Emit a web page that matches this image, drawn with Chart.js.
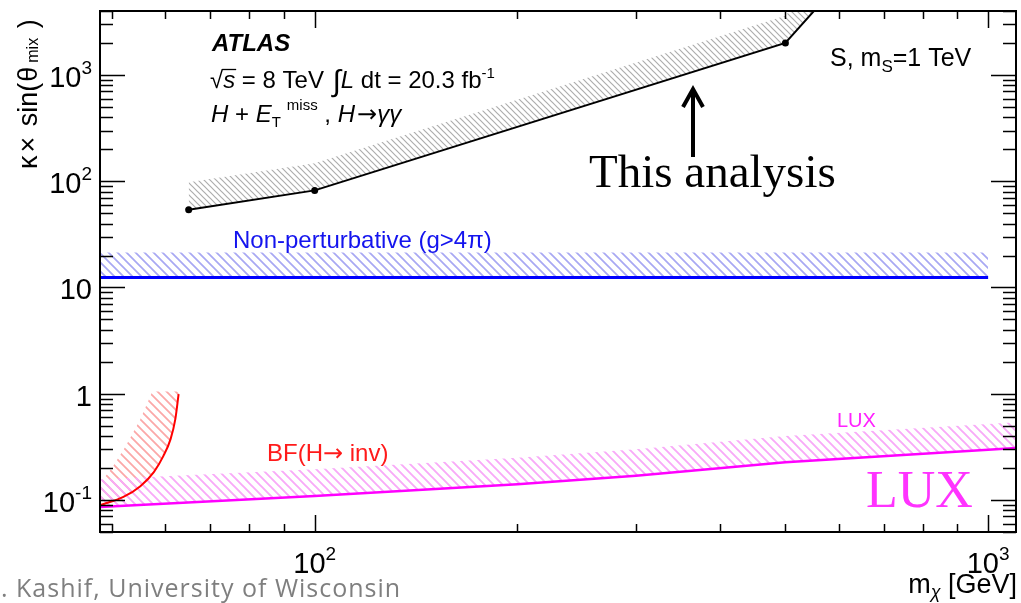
<!DOCTYPE html>
<html><head><meta charset="utf-8">
<script src="https://cdn.jsdelivr.net/npm/chart.js@4.4.1/dist/chart.umd.min.js"></script>
<style>html,body{margin:0;padding:0;background:#fff;overflow:hidden}#wrap{width:1021px;height:603px;position:relative}</style>
</head><body><div id="wrap"><canvas id="c" width="1021" height="603"></canvas></div>
<script>
// ---- data ----
const thisAnalysisMass = [65, 100, 500, 600];
const thisAnalysisLimit = [54, 82, 2000, 7300];
const thisAnalysisHatchEdge = [98, 148, 3600, 13000];
const nonPertMass = [48, 1000];
const nonPertLimit = [12.4, 12.4];
const nonPertHatchEdge = [21.3, 21.3];
const luxMass = [48, 100, 200, 300, 500, 1000, 1100];
const luxLimit = [0.086, 0.109, 0.141, 0.169, 0.227, 0.297, 0.308];
const luxHatchEdge = [0.157, 0.195, 0.25, 0.30, 0.40, 0.52, 0.54];
const bfInvMass = [48.1, 52.0, 55.1, 57.7, 59.6, 61.1, 62.1, 62.8];
const bfInvLimit = [0.0898, 0.107, 0.135, 0.183, 0.259, 0.374, 0.577, 0.99];
const bfInvHatchMass = [62.9, 57.4, 55.1, 52.4, 50.0, 48.0];
const bfInvHatchEdge = [1.05, 1.05, 0.577, 0.321, 0.20, 0.144];
// ---- axes / tick labels ----
const xMin = 48, xMax = 1100, yMin = 0.05, yMax = 4000;
const xMajorTicks = [100, 1000];
const xTickBase = ['10', '10'];
const xTickExp = ['2', '3'];
const yMajorTicks = [0.1, 1, 10, 100, 1000];
const yTickBase = ['10', '1', '10', '10', '10'];
const yTickExp = ['-1', '', '', '2', '3'];

const SANS = '"Liberation Sans", Arial, sans-serif';
const SERIF = '"Liberation Serif", "Times New Roman", serif';
const ARROWF = '"DejaVu Sans", sans-serif';

function pts(xs, ys) { return xs.map((x, i) => ({x: x, y: ys[i]})); }

function makeHatch(color, spacing, width) {
  const c = document.createElement('canvas');
  c.width = spacing; c.height = spacing;
  const g = c.getContext('2d');
  g.strokeStyle = color; g.lineWidth = width;
  g.beginPath();
  for (let k = -1; k <= 1; k++) {
    g.moveTo(k * spacing - 1, -1);
    g.lineTo(k * spacing + spacing + 1, spacing + 1);
  }
  g.stroke();
  return g.createPattern(c, 'repeat');
}
const ctx0 = document.getElementById('c').getContext('2d');
const grayHatch = makeHatch('#adadad', 6, 1.2);
const blueHatch = makeHatch('#a8a8f3', 9, 1.7);
const pinkHatch = makeHatch('#f8aaf8', 9, 1.9);
const redHatch = makeHatch('#fba8a8', 9, 1.8);

const redPoly = pts(bfInvMass, bfInvLimit).concat(pts(bfInvHatchMass, bfInvHatchEdge));

function richText(ctx, x, y, parts, align) {
  let total = 0;
  for (const p of parts) { ctx.font = p.f; total += (p.dx || 0) + ctx.measureText(p.t).width; }
  let cx = align === 'right' ? x - total : (align === 'center' ? x - total / 2 : x);
  for (const p of parts) {
    ctx.font = p.f;
    cx += p.dx || 0;
    if (p.c) ctx.fillStyle = p.c;
    ctx.fillText(p.t, cx, y + (p.dy || 0));
    cx += ctx.measureText(p.t).width;
  }
  return cx;
}

const framePlugin = {
  id: 'frame',
  afterDatasetsDraw(chart) {
    const ctx = chart.ctx, a = chart.chartArea;
    const xs = chart.scales.x, ys = chart.scales.y;
    ctx.save();
    ctx.strokeStyle = '#000';
    ctx.lineWidth = 1.5;
    const xt = [];
    for (let d = 1; d <= 3; d++) for (let m = 1; m <= 9; m++) xt.push(m * Math.pow(10, d));
    for (const v of xt) {
      if (v < xMin || v > xMax) continue;
      const px = Math.round(xs.getPixelForValue(v)) + 0.5;
      const major = xMajorTicks.indexOf(v) >= 0;
      const L = major ? 17 : 8;
      ctx.beginPath();
      ctx.moveTo(px, a.bottom); ctx.lineTo(px, a.bottom - L);
      ctx.moveTo(px, a.top); ctx.lineTo(px, a.top + L);
      ctx.stroke();
    }
    const yt = [];
    for (let d = -2; d <= 3; d++) for (let m = 1; m <= 9; m++) yt.push(+(m * Math.pow(10, d)).toPrecision(6));
    for (const v of yt) {
      if (v < yMin || v > yMax) continue;
      const py = Math.round(ys.getPixelForValue(v)) + 0.5;
      const major = yMajorTicks.indexOf(v) >= 0;
      const L = major ? 25 : 13;
      ctx.beginPath();
      ctx.moveTo(a.left, py); ctx.lineTo(a.left + L, py);
      ctx.moveTo(a.right, py); ctx.lineTo(a.right - L, py);
      ctx.stroke();
    }
    ctx.lineWidth = 2;
    ctx.strokeRect(a.left, a.top, a.right - a.left, a.bottom - a.top);
    ctx.restore();
  },
  afterDraw(chart) {
    const ctx = chart.ctx;
    const xs = chart.scales.x, ys = chart.scales.y;
    ctx.save();
    ctx.textBaseline = 'alphabetic';
    ctx.textAlign = 'left';
    ctx.fillStyle = '#000';
    const F = (s, st) => (st ? st + ' ' : '') + s + 'px ' + SANS;
    // x tick labels
    xMajorTicks.forEach((v, i) => {
      const px = xs.getPixelForValue(v);
      richText(ctx, px, 573, [{t: xTickBase[i], f: F(29)}, {t: xTickExp[i], f: F(19), dy: -13}], 'center');
    });
    // y tick labels
    yMajorTicks.forEach((v, i) => {
      const py = ys.getPixelForValue(v);
      const parts = [{t: yTickBase[i], f: F(29)}];
      if (yTickExp[i]) parts.push({t: yTickExp[i], f: F(19), dy: -13});
      richText(ctx, 92, py + 12, parts, 'right');
    });
    // axis titles
    richText(ctx, 1017, 593, [{t: 'm', f: F(27)}, {t: 'χ', f: F(18, 'italic'), dy: 5}, {t: ' [GeV]', f: F(27)}], 'right');
    ctx.save();
    ctx.translate(37, 169);
    ctx.rotate(-Math.PI / 2);
    richText(ctx, 0, 0, [
      {t: 'κ', f: F(27)}, {t: '×', f: F(27), dx: 3}, {t: ' sin(', f: F(27), dx: 3},
      {t: 'θ', f: F(27), dx: 1}, {t: 'mix', f: F(16), dy: 1, dx: 4}, {t: ' )', f: F(27), dx: 2}]);
    ctx.restore();
    // ATLAS block
    ctx.font = F(24, 'italic bold');
    ctx.fillText('ATLAS', 212, 51);
    let cx = richText(ctx, 210, 88, [{t: '√', f: F(24)}]);
    const sx = cx;
    cx = richText(ctx, cx, 88, [{t: 's', f: F(24, 'italic')}]);
    ctx.lineWidth = 1.3; ctx.strokeStyle = '#000';
    ctx.beginPath(); ctx.moveTo(sx - 1, 69.5); ctx.lineTo(cx + 1, 69.5); ctx.stroke();
    richText(ctx, cx, 88, [
      {t: ' = 8 TeV ', f: F(24)}, {t: '∫', f: F(30), dy: 3, dx: 2}, {t: 'L', f: F(24, 'italic')},
      {t: ' dt = 20.3 fb', f: F(24)}, {t: '-1', f: F(15), dy: -10}]);
    richText(ctx, 211, 122, [
      {t: 'H', f: F(24, 'italic')}, {t: ' + ', f: F(24)}, {t: 'E', f: F(24, 'italic')},
      {t: 'T', f: F(15), dy: 5}, {t: 'miss', f: F(15), dy: -12, dx: 6},
      {t: ' , ', f: F(24)}, {t: 'H', f: F(24, 'italic')}, {t: '→', f: '24px ' + ARROWF, dx: 2}, {t: 'γγ', f: F(24, 'italic')}]);
    richText(ctx, 830, 66, [{t: 'S, m', f: F(25)}, {t: 'S', f: F(17), dy: 6}, {t: '=1 TeV', f: F(25)}]);
    // series labels
    ctx.fillStyle = '#1414ee';
    ctx.font = F(24);
    ctx.fillText('Non-perturbative (g>4π)', 233, 248);
    ctx.fillStyle = '#ff1a1a';
    richText(ctx, 267, 461, [{t: 'BF(H', f: F(24)}, {t: '→', f: '24px ' + ARROWF}, {t: ' inv)', f: F(24)}]);
    ctx.fillStyle = '#ff22ff';
    ctx.font = F(20);
    ctx.fillText('LUX', 837, 427);
    ctx.font = '52px ' + SERIF;
    ctx.fillStyle = '#ff33ff';
    ctx.fillText('LUX', 866, 507);
    // annotation
    ctx.fillStyle = '#000';
    ctx.font = '47px ' + SERIF;
    ctx.fillText('This analysis', 589, 187);
    ctx.strokeStyle = '#000';
    ctx.lineWidth = 4;
    ctx.lineJoin = 'miter';
    ctx.beginPath(); ctx.moveTo(693, 157); ctx.lineTo(693, 90); ctx.stroke();
    ctx.beginPath(); ctx.moveTo(683, 107); ctx.lineTo(693, 89); ctx.lineTo(703, 107); ctx.stroke();
    // footer
    ctx.fillStyle = '#7f7f7f';
    ctx.font = '25px "Open Sans", sans-serif';
    ctx.letterSpacing = '1px';
    ctx.fillText('. Kashif, University of Wisconsin', 1, 597);
    ctx.restore();
  }
};

new Chart(ctx0, {
  type: 'line',
  data: {datasets: [
    {data: pts(thisAnalysisMass, thisAnalysisLimit), borderColor: '#000', borderWidth: 2,
     pointRadius: [3.5, 3.5, 3.5, 0], pointBackgroundColor: '#000', pointBorderWidth: 0, fill: false, order: 0, tension: 0},
    {data: pts(thisAnalysisMass, thisAnalysisHatchEdge), borderWidth: 0, pointRadius: 0, fill: '-1', backgroundColor: grayHatch, order: 1},
    {data: pts(nonPertMass, nonPertLimit), borderColor: '#0000ff', borderWidth: 3, pointRadius: 0, fill: false, order: 0},
    {data: pts(nonPertMass, nonPertHatchEdge), borderWidth: 0, pointRadius: 0, fill: '-1', backgroundColor: blueHatch, order: 1},
    {data: pts(luxMass, luxLimit), borderColor: '#ff00ff', borderWidth: 2.5, pointRadius: 0, fill: false, order: 0},
    {data: pts(luxMass, luxHatchEdge), borderWidth: 0, pointRadius: 0, fill: '-1', backgroundColor: pinkHatch, order: 1},
    {data: pts(bfInvMass, bfInvLimit), borderColor: '#ff0000', borderWidth: 2, pointRadius: 0, fill: false, order: 0, cubicInterpolationMode: 'monotone'},
    {data: redPoly, borderWidth: 0, pointRadius: 0, fill: 'shape', backgroundColor: redHatch, order: 1}
  ]},
  options: {
    responsive: false, animation: false, devicePixelRatio: 1,
    layout: {padding: {left: 100, right: 5, top: 11, bottom: 71}},
    scales: {
      x: {type: 'logarithmic', min: xMin, max: xMax, display: false},
      y: {type: 'logarithmic', min: yMin, max: yMax, display: false}
    },
    plugins: {legend: {display: false}, tooltip: {enabled: false}}
  },
  plugins: [framePlugin]
});
</script></body></html>
